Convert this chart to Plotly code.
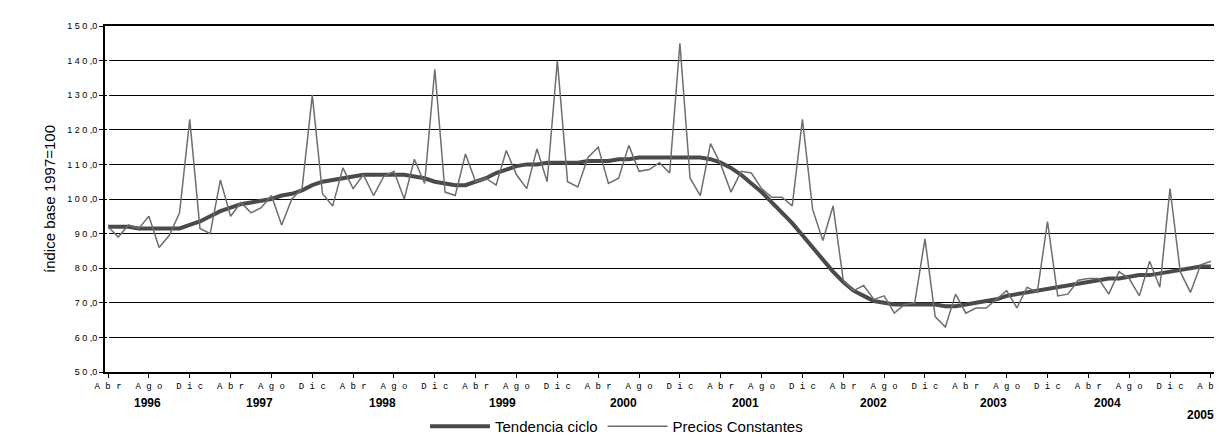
import plotly.graph_objects as go

month_labels = ["Abr", "May", "Jun", "Jul", "Ago", "Sep", "Oct", "Nov", "Dic", "Ene", "Feb", "Mar"]
years = ["1996", "1997", "1998", "1999", "2000", "2001", "2002", "2003", "2004", "2005"]
year_pos = [3.9, 14.8, 26.9, 38.6, 50.5, 62.4, 75, 86.7, 97.9, 107]

precios = [92, 89, 92.5, 91.5, 95, 86, 89.5, 96, 123, 91.5, 90, 105.5,
           95, 99, 96, 97.5, 101, 92.5, 100, 103, 130, 101.5, 98, 109,
           103, 107, 101, 106.5, 108, 100, 111.5, 104.5, 137.5, 102, 101, 113,
           105, 106, 104, 114, 107, 103, 114.5, 105, 140, 105, 103.5, 112,
           115, 104.5, 106, 115.5, 108, 108.5, 110.5, 107.5, 145, 106, 101, 116,
           110, 102, 108, 107.5, 103, 100.5, 100.5, 98, 123, 97, 88, 98,
           76.5, 73.5, 75, 71, 72, 67, 69.5, 70, 88.5, 66, 63, 72.5,
           67, 68.5, 68.5, 71, 73.5, 68.5, 74.5, 73, 93.5, 72, 72.5, 76.5,
           77, 77, 72.5, 79, 77, 72, 82, 74.5, 103, 79, 73, 81, 82]

tendencia = [92, 92, 92, 91.5, 91.5, 91.5, 91.5, 91.5, 92.5, 93.5, 95, 96.5,
             97.5, 98.5, 99, 99.5, 100, 101, 101.5, 102.5, 104, 105, 105.5, 106,
             106.5, 107, 107, 107, 107, 107, 106.5, 106, 105, 104.5, 104, 104,
             105, 106, 107.5, 108.5, 109.5, 110, 110, 110.5, 110.5, 110.5, 110.5, 111,
             111, 111, 111.5, 111.5, 112, 112, 112, 112, 112, 112, 112, 111.5,
             110.5, 109, 107, 104.5, 102, 99, 96, 93, 89.5, 86, 82.5, 79,
             76, 73.5, 72, 70.5, 70, 69.5, 69.5, 69.5, 69.5, 69.5, 69, 69,
             69.5, 70, 70.5, 71, 72, 72.5, 73, 73.5, 74, 74.5, 75, 75.5,
             76, 76.5, 77, 77, 77.5, 78, 78, 78.5, 79, 79.5, 80, 80.5, 80.5]

x = list(range(len(precios)))
tickvals = [i for i in x if i % 4 == 0]
ticktext = [" ".join(month_labels[i % 12]) for i in tickvals]
yticks = list(range(50, 151, 10))
ytext = [" ".join(str(v)) + " ,0" for v in yticks]

fig = go.Figure()
fig.add_trace(go.Scatter(x=x, y=tendencia, mode="lines", name="Tendencia ciclo",
                         line=dict(color="#4a4a4a", width=4)))
fig.add_trace(go.Scatter(x=x, y=precios, mode="lines", name="Precios Constantes",
                         line=dict(color="#6e6e6e", width=1.5)))

for yr, p in zip(years, year_pos):
    fig.add_annotation(x=p, y=-0.115 if yr != "2005" else -0.15, xref="x", yref="paper",
                       text="<b>" + yr + "</b>", showarrow=False,
                       font=dict(family="Arial", size=12, color="black"))

fig.update_layout(
    width=1222, height=441,
    margin=dict(l=97, r=6, t=18, b=72),
    plot_bgcolor="white", paper_bgcolor="white",
    showlegend=True,
    legend=dict(orientation="h", x=0.46, xanchor="center", y=-0.205, yanchor="bottom",
                font=dict(family="Arial", size=15, color="black"), itemwidth=60,
                tracegroupgap=0, traceorder="normal"),
    xaxis=dict(range=[-0.3, 108.6], tickvals=tickvals, ticktext=ticktext,
               tickangle=0, showgrid=False, ticks="outside", ticklen=4, tickcolor="black",
               showline=True, linecolor="black", linewidth=2, mirror=True,
               tickfont=dict(family="Courier New, Liberation Mono", size=9, color="black")),
    yaxis=dict(range=[50, 150], tickvals=yticks, ticktext=ytext,
               showgrid=True, gridcolor="black", gridwidth=1,
               ticks="outside", ticklen=4, tickcolor="black",
               showline=True, linecolor="black", linewidth=2, mirror=True,
               title=dict(text="índice base 1997=100", font=dict(family="Arial", size=15, color="black"),
                          standoff=8),
               tickfont=dict(family="Arial", size=9, color="black")),
)

fig.write_html("out.html")
